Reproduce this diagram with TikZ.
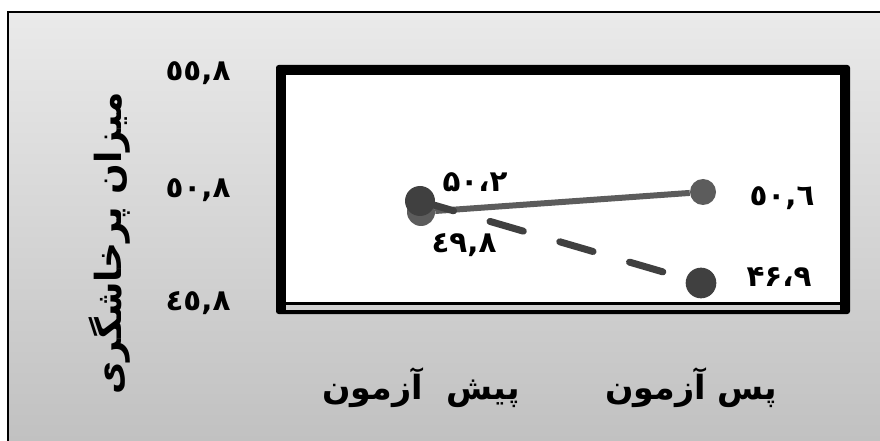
\documentclass[tikz,border=0pt]{standalone}
\usepackage{fontspec}
\usetikzlibrary{positioning}
\TeXXeTstate=1
\newfontfamily\arabicfont[Script=Arabic]{DejaVu Sans}
\definecolor{serA}{HTML}{5C5C5C}
\definecolor{serB}{HTML}{404040}
\definecolor{bgtop}{HTML}{EAEAEA}
\definecolor{bgbot}{HTML}{C0C0C0}
\tikzset{
  every node/.style={inner sep=0pt},
  axisnum/.style={font=\arabicfont\bfseries\fontsize{22}{24}\selectfont},
  datalbl/.style={font=\arabicfont\bfseries\fontsize{22}{24}\selectfont},
  catlbl/.style={font=\arabicfont\bfseries\fontsize{25}{28}\selectfont},
  dotA/.style={circle, fill=serA, minimum size=19.5pt},
  dotB/.style={circle, fill=serB, minimum size=22.5pt},
  lineA/.style={draw=serA, line width=4.5pt},
  lineB/.style={draw=serB, line width=5.25pt, line cap=round,
    dash pattern=on 26pt off 28.5pt, dash phase=11.25pt}
}

\begin{document}
\begin{tikzpicture}[x=0.75pt, y=-0.75pt]
  \useasboundingbox (0,0) rectangle (880,441);
  \clip (0,0) rectangle (880,441);
  \shade[top color=bgtop, bottom color=bgbot, draw=black, line width=1.5pt]
    (8,12) rectangle (890,451);
  \fill[black, rounded corners=2pt] (276,65) rectangle (850,314);
  \fill[white] (286,75) rectangle (840,302);
  \fill[gray!35] (286,305) rectangle (840,310);

  \node[axisnum] (t558) at (198,73) {٥٥,٨};
  \node[axisnum] (t508) at (198,190) {٥٠,٨};
  \node[axisnum] (t458) at (198,303) {٤٥,٨};

  \node[dotA, minimum size=21pt] (preA) at (421,212) {};
  \node[dotA] (postA) at (703,192) {};
  \draw[lineA] (preA) -- (postA);
  \node[dotB] (preB) at (420,201) {};
  \node[dotB, minimum size=23pt] (postB) at (701,283) {};
  \draw[lineB] (preB) -- (postB);

  \node[datalbl] (lpreB) at (475,182) {۵۰،۲};
  \node[datalbl] (lpreA) at (464,245) {٤٩,٨};
  \node[datalbl] (lpostA) at (782,198) {٥٠,٦};
  \node[datalbl] (lpostB) at (779,277) {۴۶،۹};

  \node[catlbl] (pre) at (421,388) {\beginR پیش\ \ آزمون\endR};
  \node[catlbl] (post) at (691,388) {\beginR پس آزمون\endR};
  \node[catlbl, font=\arabicfont\bfseries\fontsize{27}{30}\selectfont, rotate=90]
    (ylab) at (110,243) {\beginR میزان پرخاشگری\endR};
\end{tikzpicture}
\end{document}
